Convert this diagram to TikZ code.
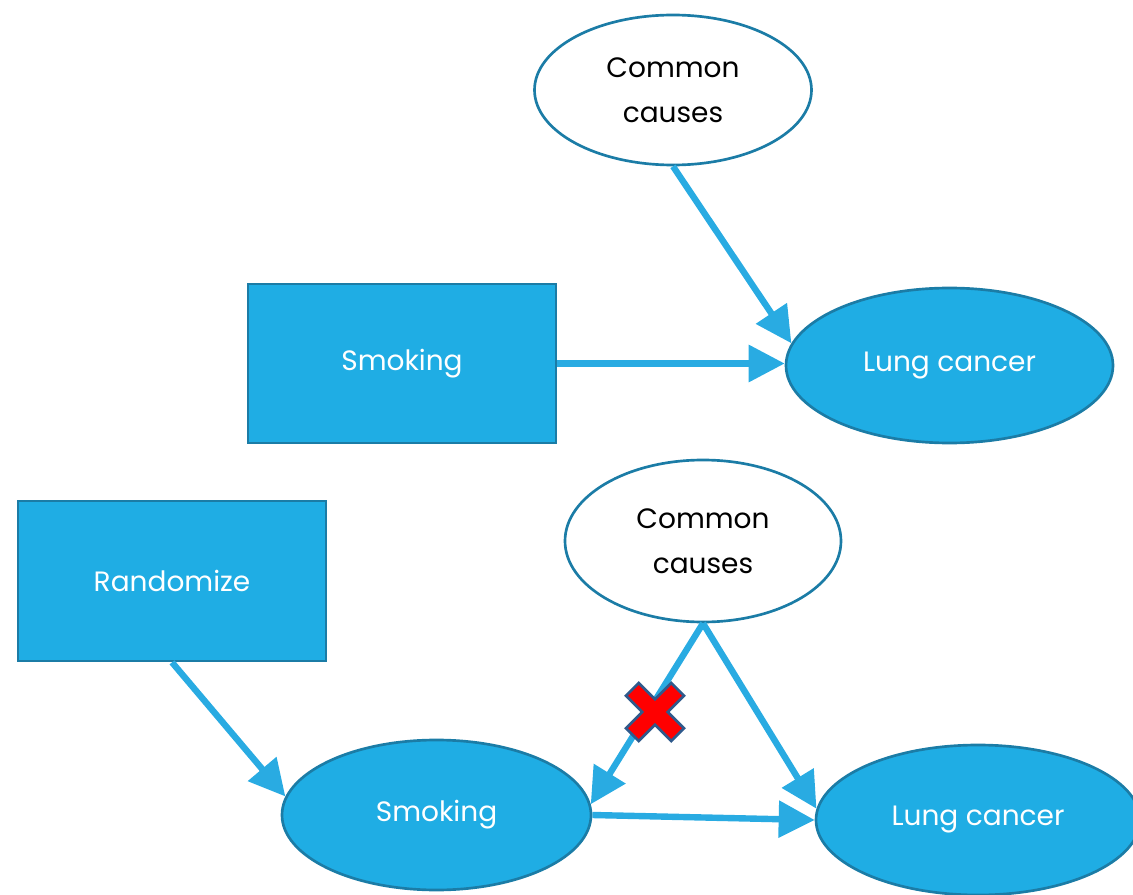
\documentclass[tikz,border=0pt]{standalone}
\usepackage{fontspec}
\setmainfont{Poppins}
\usetikzlibrary{shapes.geometric,arrows.meta}
\definecolor{fillblue}{HTML}{1FADE4}
\definecolor{edgeblue}{HTML}{1B7CA6}
\definecolor{arrowblue}{HTML}{29ABE2}
\definecolor{xedge}{HTML}{2F5A8C}
\tikzset{
  txt/.style={font=\fontsize{21}{34}\selectfont, align=center, inner sep=0pt},
  boxnode/.style={txt, draw=edgeblue, line width=2pt, fill=fillblue, text=white, rectangle},
  filledell/.style={txt, draw=edgeblue, line width=2pt, fill=fillblue, text=white, ellipse},
  whiteell/.style={txt, draw=edgeblue, line width=2pt, fill=white, text=black, ellipse},
  conn/.style={draw=arrowblue, line width=4.8pt, -{Triangle[length=27pt,width=27pt]}, shorten >=0pt},
}
\begin{document}
\begin{tikzpicture}[x=0.75pt,y=-0.75pt]
\useasboundingbox (0,0) rectangle (1133,895);
% top
\node[whiteell, minimum width=207.75pt, minimum height=112.5pt] (cc1) at (673,90) {Common\\causes};
\node[boxnode, minimum width=231pt, minimum height=119.25pt] (s1) at (402,363.5) {Smoking};
\node[filledell, minimum width=245.25pt, minimum height=116.25pt] (lc1) at (949.5,365.5) {Lung cancer};
% bottom
\node[boxnode, minimum width=231pt, minimum height=120pt] (r) at (172,581) {Randomize};
\node[whiteell, minimum width=207pt, minimum height=121.5pt] (cc2) at (703,541) {Common\\causes};
\node[filledell, minimum width=231.75pt, minimum height=112.5pt] (s2) at (436.5,815) {Smoking};
\node[filledell, minimum width=243pt, minimum height=112.5pt] (lc2) at (978,820) {Lung cancer};
% connectors
\draw[conn] (cc1.south) -- (lc1.172);
\draw[conn] (s1.east) -- (s1.east -| lc1.west);
\draw[conn] (r.south) -- (s2.173);
\draw[conn] (cc2.south) -- (s2.4);
\draw[conn] (cc2.south) -- (lc2.176);
\draw[conn] (s2.east) -- (lc2.west);
% red cross
\begin{scope}[shift={(655,712)}, rotate=45]
\draw[fill=red, draw=xedge, line width=2pt, line join=miter]
  (9,9) -- (9,32) -- (-9,32) -- (-9,9) -- (-32,9) -- (-32,-9) -- (-9,-9) -- (-9,-32) -- (9,-32) -- (9,-9) -- (32,-9) -- (32,9) -- cycle;
\end{scope}
\end{tikzpicture}
\end{document}
